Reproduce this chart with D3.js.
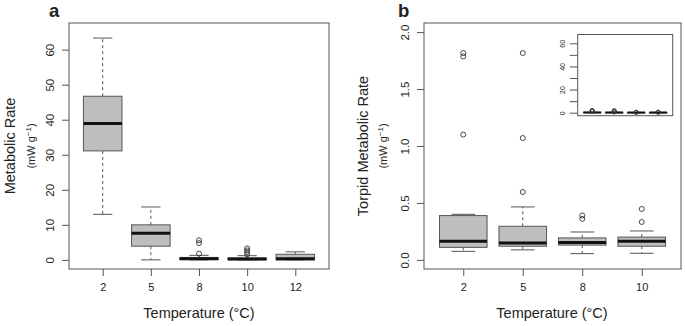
<!DOCTYPE html>
<html>
<head>
<meta charset="utf-8">
<script src="https://cdn.jsdelivr.net/npm/d3@7"></script>
<style>
  body { margin: 0; background: #fff; }
  text { font-family: "Liberation Sans", Arial, sans-serif; fill: #222; }
</style>
</head>
<body>
<div id="chart"></div>
<script>
// panel a - metabolic rate by temperature
var tempsA = ["2", "5", "8", "10", "12"];
var lowA  = [13.0, 0.0, 0.0, 0.0, 0.0];
var q1A   = [31.1, 3.9, 0.1, 0.05, 0.0];
var medA  = [38.9, 7.6, 0.3, 0.25, 0.3];
var q3A   = [46.7, 10.0, 0.7, 0.55, 1.6];
var highA = [63.3, 15.1, 1.3, 1.2, 2.3];
var outA  = [[], [], [1.8, 4.8, 5.6], [1.6, 2.2, 2.7, 3.3], []];
var ticksA = [0, 10, 20, 30, 40, 50, 60];

// panel b - torpid metabolic rate
var tempsB = ["2", "5", "8", "10"];
var lowB  = [0.075, 0.088, 0.055, 0.058];
var q1B   = [0.11, 0.12, 0.13, 0.12];
var medB  = [0.163, 0.149, 0.152, 0.163];
var q3B   = [0.389, 0.295, 0.193, 0.2];
var highB = [0.40, 0.465, 0.245, 0.254];
var outB  = [[1.10, 1.786, 1.816], [0.596, 1.07, 1.816], [0.36, 0.39], [0.333, 0.447]];
var ticksB = [0, 0.5, 1.0, 1.5, 2.0];

// inset axis
var ticksInset = [0, 10, 20, 30, 40, 50, 60];
var labelsInset = ["0", "", "20", "", "40", "", "60"];

var svg = d3.select("#chart").append("svg")
    .attr("width", 685)
    .attr("height", 326)

var lineCol = "#555";

function groups(temps, low, q1, med, q3, high, out) {
    return temps.map(function(t, i) {
        return {pos: i + 1, low: low[i], q1: q1[i], med: med[i], q3: q3[i], high: high[i], out: out[i]};
    });
}

function drawBoxes(g, data, x, y, opt) {
    var bw = x(1.4) - x(0.6);
    var box = g.selectAll(".box").data(data).enter().append("g");

    // whiskers (dashed)
    box.append("line")
        .attr("x1", function(d) { return x(d.pos) }).attr("x2", function(d) { return x(d.pos) })
        .attr("y1", function(d) { return y(d.q3) }).attr("y2", function(d) { return y(d.high) })
        .attr("stroke", lineCol).attr("stroke-dasharray", opt.dash);
    box.append("line")
        .attr("x1", function(d) { return x(d.pos) }).attr("x2", function(d) { return x(d.pos) })
        .attr("y1", function(d) { return y(d.q1) }).attr("y2", function(d) { return y(d.low) })
        .attr("stroke", lineCol).attr("stroke-dasharray", opt.dash);

    // staples
    ["high", "low"].forEach(function(k) {
        box.append("line")
            .attr("x1", function(d) { return x(d.pos) - bw / 4 })
            .attr("x2", function(d) { return x(d.pos) + bw / 4 })
            .attr("y1", function(d) { return y(d[k]) })
            .attr("y2", function(d) { return y(d[k]) })
            .attr("stroke", lineCol);
    });

    box.append("rect")
        .attr("x", function(d) { return x(d.pos) - bw / 2 })
        .attr("width", bw)
        .attr("y", function(d) { return y(d.q3) })
        .attr("height", function(d) { return Math.max(0.5, y(d.q1) - y(d.q3)) })
        .attr("fill", "#bebebe")
        .attr("stroke", lineCol);

    box.append("line")
        .attr("x1", function(d) { return x(d.pos) - bw / 2 })
        .attr("x2", function(d) { return x(d.pos) + bw / 2 })
        .attr("y1", function(d) { return y(d.med) })
        .attr("y2", function(d) { return y(d.med) })
        .attr("stroke", "#111")
        .attr("stroke-width", opt.medW);

    box.each(function(d) {
        d3.select(this).selectAll("circle").data(d.out).enter().append("circle")
            .attr("cx", x(d.pos))
            .attr("cy", function(v) { return y(v) })
            .attr("r", opt.r)
            .attr("fill", "none")
            .attr("stroke", "#333")
            .attr("stroke-width", 0.9);
    });
}

function frame(g, x0, y0, x1, y1) {
    g.append("rect")
        .attr("x", x0).attr("y", y0)
        .attr("width", x1 - x0).attr("height", y1 - y0)
        .attr("fill", "none")
        .attr("stroke", lineCol);
}

function yAxis(g, y, x0, ticks, fmt, size, off, tick) {
    var ax = g.append("g")
        .attr("transform", "translate(" + x0 + ",0)")
        .call(d3.axisLeft(y).tickValues(ticks).tickSize(tick).tickFormat(fmt));
    ax.select(".domain").remove();
    ax.selectAll("line").attr("stroke", lineCol);
    ax.selectAll("text")
        .attr("x", 0).attr("dy", 0)
        .attr("text-anchor", "middle")
        .attr("transform", "translate(" + (-off) + ",0) rotate(-90)")
        .style("font-size", size + "px")
        .style("font-family", "Liberation Sans, Arial, sans-serif")
        .attr("fill", "#222");
    return ax;
}

function xAxis(g, x, y0, temps) {
    var ax = g.append("g")
        .attr("transform", "translate(0," + y0 + ")")
        .call(d3.axisBottom(x).tickValues(d3.range(1, temps.length + 1)).tickSize(7)
            .tickFormat(function(d) { return temps[d - 1] }));
    ax.select(".domain").remove();
    ax.selectAll("line").attr("stroke", lineCol);
    ax.selectAll("text")
        .attr("y", 21.7).attr("dy", 0)
        .style("font-size", "11px")
        .style("font-family", "Liberation Sans, Arial, sans-serif")
        .attr("fill", "#222");
}

function yTitle(g, xb, xs, yc, label) {
    g.append("text")
        .attr("transform", "translate(" + xb + "," + yc + ") rotate(-90)")
        .attr("text-anchor", "middle")
        .attr("font-size", "14.5px")
        .text(label);
    var t = g.append("text")
        .attr("transform", "translate(" + xs + "," + yc + ") rotate(-90)")
        .attr("text-anchor", "middle")
        .attr("font-size", "11px");
    t.append("tspan").text("(mW g");
    t.append("tspan").attr("dy", -4).attr("font-size", "8px").text("\u22121");
    t.append("tspan").attr("dy", 4).text(")");
}

// ---- panel a
var xA = d3.scaleLinear().domain([0.3, 5.7]).range([69, 329]);
var yA = d3.scaleLinear().domain([-2.6, 67.6]).range([269, 23]);
var gA = svg.append("g");

drawBoxes(gA, groups(tempsA, lowA, q1A, medA, q3A, highA, outA), xA, yA, {dash: "3,3", medW: 3, r: 2.5});
frame(gA, 69, 23, 329, 269);
yAxis(gA, yA, 69, ticksA, d3.format("d"), 11.5, 15, 7);
xAxis(gA, xA, 269, tempsA);
yTitle(gA, 15, 35, 146, "Metabolic Rate");

gA.append("text")
    .attr("x", 199).attr("y", 318)
    .attr("text-anchor", "middle")
    .attr("font-size", "14.5px")
    .text("Temperature (\u00B0C)");

gA.append("text")
    .attr("x", 49).attr("y", 17)
    .attr("font-size", "18.5px")
    .attr("font-weight", "bold")
    .attr("fill", "#111")
    .text("a");

// ---- panel b
var xB = d3.scaleLinear().domain([0.34, 4.66]).range([424, 681]);
var yB = d3.scaleLinear().domain([-0.08, 2.08]).range([269, 23]);
var gB = svg.append("g");

drawBoxes(gB, groups(tempsB, lowB, q1B, medB, q3B, highB, outB), xB, yB, {dash: "3,3", medW: 3, r: 2.5});
frame(gB, 424, 23, 681, 269);
yAxis(gB, yB, 424, ticksB, d3.format(".1f"), 11.5, 15, 7);
xAxis(gB, xB, 269, tempsB);
yTitle(gB, 368, 387, 146, "Torpid Metabolic Rate");

gB.append("text")
    .attr("x", 552).attr("y", 318)
    .attr("text-anchor", "middle")
    .attr("font-size", "14.5px")
    .text("Temperature (\u00B0C)");

gB.append("text")
    .attr("x", 398).attr("y", 17)
    .attr("font-size", "18.5px")
    .attr("font-weight", "bold")
    .attr("fill", "#111")
    .text("b");

// ---- inset (same torpid data on the panel a scale)
var xI = d3.scaleLinear().domain([0.34, 4.66]).range([577.7, 672.7]);
var yI = d3.scaleLinear().domain([-2.6, 67.6]).range([115.7, 34.5]);
var gI = svg.append("g");

gI.append("rect")
    .attr("x", 577.7).attr("y", 34.5)
    .attr("width", 95).attr("height", 81.2)
    .attr("fill", "#fff");
drawBoxes(gI, groups(tempsB, lowB, q1B, medB, q3B, highB, outB), xI, yI, {dash: "2,2", medW: 2, r: 2});
frame(gI, 577.7, 34.5, 672.7, 115.7);
yAxis(gI, yI, 577.7, ticksInset, function(d, i) { return labelsInset[i] }, 7, 13, 8);
</script>
</body>
</html>
